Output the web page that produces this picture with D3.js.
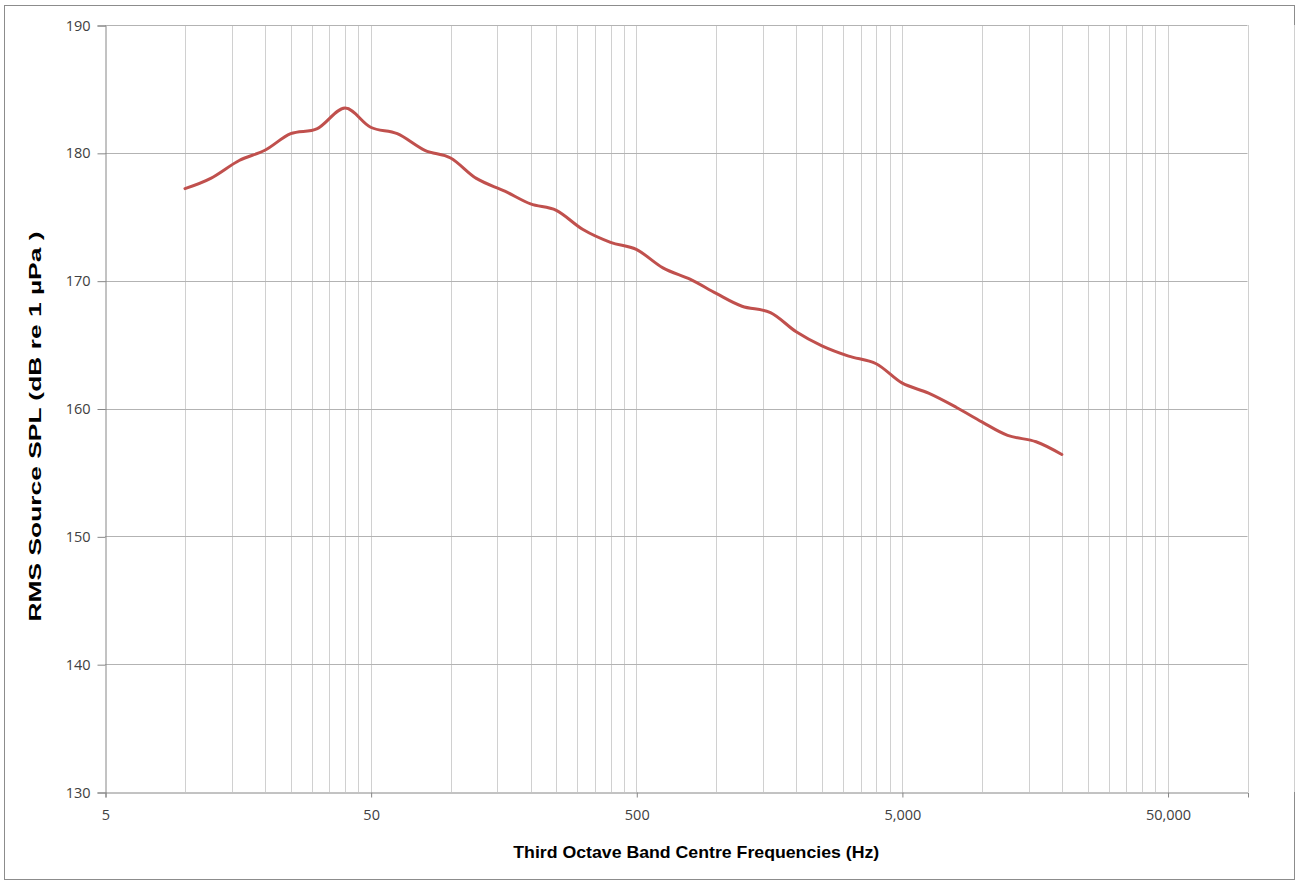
<!DOCTYPE html>
<html>
<head>
<meta charset="utf-8">
<script src="https://cdn.jsdelivr.net/npm/d3@7"></script>
<style>
  html, body { margin: 0; padding: 0; background: #fff; }
  svg { display: block; }
</style>
</head>
<body>
<svg id="chart" width="1298" height="882"></svg>
<script>
// ---- data ----
const frequencies = [10, 12.5, 16, 20, 25, 31.5, 40, 50, 63, 80, 100, 125, 160, 200, 250, 315, 400, 500, 630, 800,
  1000, 1250, 1600, 2000, 2500, 3150, 4000, 5000, 6300, 8000, 10000, 12500, 16000, 20000];
const splValues = [177.2, 178.0, 179.4, 180.2, 181.5, 181.9, 183.5, 182.0, 181.5, 180.2, 179.6, 178.0, 177.0, 176.0,
  175.5, 174.0, 173.0, 172.45, 171.0, 170.1, 169.0, 168.0, 167.5, 166.0, 164.9, 164.1, 163.5, 162.0, 161.2, 160.1,
  158.95, 157.9, 157.4, 156.4];
const xTickValues = [5, 50, 500, 5000, 50000];
const xTickLabels = ["5", "50", "500", "5,000", "50,000"];
const yTickValues = [130, 140, 150, 160, 170, 180, 190];
const xDomain = [5, 100000];
const yDomain = [130, 190];
const yTitle = "RMS Source SPL (dB re 1 µPa )";
const xTitle = "Third Octave Band Centre Frequencies (Hz)";

(function () {
// ---- layout ----
const svg = d3.select("#chart");
const pLeft = 105, pRight = 1247.5, pTop = 25, pBottom = 792;

const x = d3.scaleLog().domain(xDomain).range([pLeft, pRight]);
const y = d3.scaleLinear().domain(yDomain).range([pBottom, pTop]);

// outer border
svg.append("rect").attr("x", 4.5).attr("y", 5.5).attr("width", 1290).attr("height", 874)
  .attr("fill", "#fff").attr("stroke", "#8c8c8c").attr("stroke-width", 1);

// vertical gridlines at 5*k*10^n
const vGrid = [];
for (let dec = 5; dec < 100000; dec *= 10) {
  for (let k = 2; k <= 10; k++) vGrid.push(dec * k);
}
svg.append("g").selectAll("line").data(vGrid).join("line")
  .attr("x1", d => Math.round(x(d)) + 0.5).attr("x2", d => Math.round(x(d)) + 0.5)
  .attr("y1", pTop).attr("y2", pBottom)
  .attr("stroke", "#d0d0d0").attr("stroke-width", 1);

// horizontal gridlines
svg.append("g").selectAll("line").data(yTickValues.filter(v => v > yDomain[0])).join("line")
  .attr("x1", pLeft).attr("x2", pRight)
  .attr("y1", d => Math.round(y(d)) + 0.5).attr("y2", d => Math.round(y(d)) + 0.5)
  .attr("stroke", "#b3b3b3").attr("stroke-width", 1);

// y axis
const yAxis = d3.axisLeft(y).tickValues(yTickValues).tickSize(8).tickPadding(7).tickFormat(d3.format("d"));
const gy = svg.append("g").attr("transform", `translate(${pLeft + 0.5},0.5)`).call(yAxis);
gy.select(".domain").attr("stroke", "#868686");
gy.selectAll(".tick line").attr("stroke", "#868686");
gy.selectAll(".tick text").attr("fill", "#404040").attr("font-family", "'Open Sans', 'Liberation Sans', sans-serif")
  .attr("font-size", 14.5);

// x axis
const xAxis = d3.axisBottom(x).tickValues(xTickValues).tickSize(5).tickPadding(12)
  .tickFormat((d, i) => xTickLabels[i]);
const gx = svg.append("g").attr("transform", `translate(0.5,${pBottom + 0.5})`).call(xAxis);
gx.select(".domain").attr("stroke", "#868686");
gx.selectAll(".tick line").attr("stroke", "#868686");
gx.selectAll(".tick text").attr("fill", "#404040").attr("font-family", "'Open Sans', 'Liberation Sans', sans-serif")
  .attr("font-size", 14.5);

// data line
const line = d3.line()
  .x((d, i) => x(frequencies[i]))
  .y(d => y(d))
  .curve(d3.curveCatmullRom.alpha(0));
svg.append("path").datum(splValues)
  .attr("d", line)
  .attr("fill", "none")
  .attr("stroke", "#c0504d")
  .attr("stroke-width", 3)
  .attr("stroke-linejoin", "round")
  .attr("stroke-linecap", "round");

// axis titles
svg.append("text")
  .attr("x", (pLeft + pRight) / 2 + 20).attr("y", 858)
  .attr("text-anchor", "middle")
  .attr("font-family", "'Liberation Sans Narrow', 'Liberation Sans', sans-serif")
  .attr("font-weight", "bold").attr("font-size", 17).attr("fill", "#000")
  .attr("textLength", 366).attr("lengthAdjust", "spacingAndGlyphs")
  .text(xTitle);

svg.append("text")
  .attr("transform", `translate(41,${(pTop + pBottom) / 2 + 18}) rotate(-90)`)
  .attr("text-anchor", "middle")
  .attr("font-family", "'Liberation Sans Narrow', 'Liberation Sans', sans-serif")
  .attr("font-weight", "bold").attr("font-size", 17).attr("fill", "#000")
  .attr("textLength", 390).attr("lengthAdjust", "spacingAndGlyphs")
  .text(yTitle);
})();
</script>
</body>
</html>
